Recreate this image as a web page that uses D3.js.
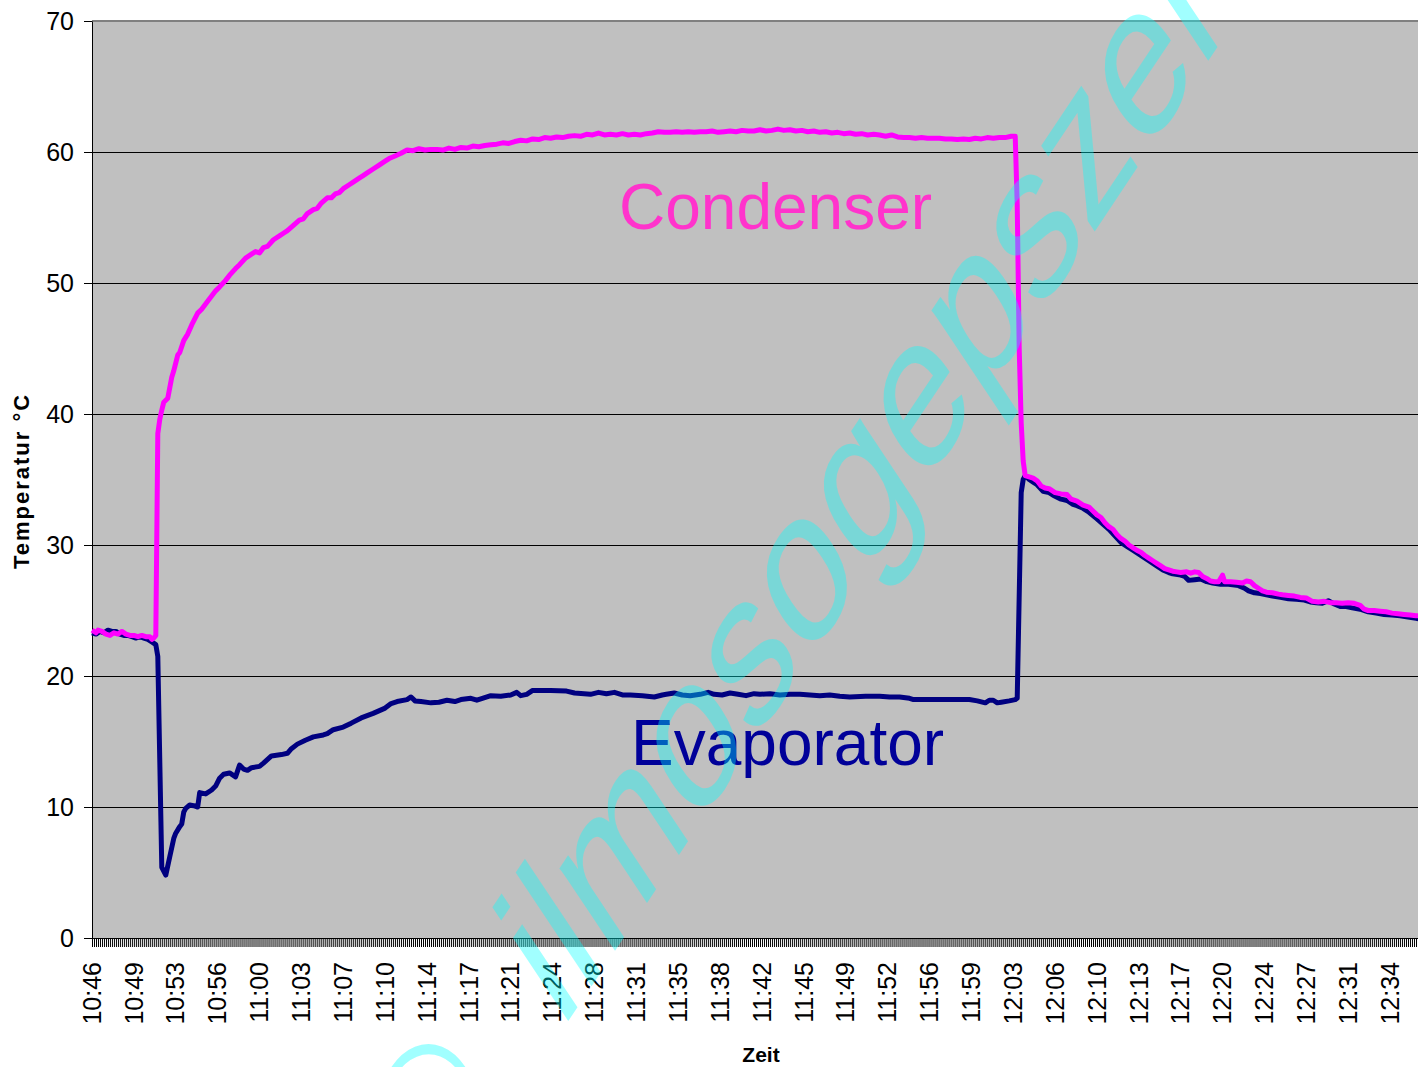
<!DOCTYPE html>
<html>
<head>
<meta charset="utf-8">
<script src="https://cdn.jsdelivr.net/npm/d3@7"></script>
<style>
  body { margin: 0; background: #fff; }
  svg { display: block; font-family: "Liberation Sans", Arial, sans-serif; }
</style>
</head>
<body>
<div id="plot"></div>
<script>
// x values are sample numbers (one reading every 10 s, starting 10:46)
const timeLabels = ["10:46","10:49","10:53","10:56","11:00","11:03","11:07","11:10","11:14","11:17",
  "11:21","11:24","11:28","11:31","11:35","11:38","11:42","11:45","11:49","11:52","11:56","11:59",
  "12:03","12:06","12:10","12:13","12:17","12:20","12:24","12:27","12:31","12:34"];
const labelEvery = 21;      // a time label every 21 samples
const sampleCount = 667;
const yTicks = [0, 10, 20, 30, 40, 50, 60, 70];

const condenser = [
  [0,23.5],[2,23.3],[3,23.5],[5,23.4],[7,23.2],[9,23.1],[11,23.3],[13,23.2],[15,23.4],[17,23.2],
  [19,23.1],[21,23.1],[23,23.0],[25,23.1],[27,23.0],[29,23.0],[30,22.8],[31,22.9],[32,23.1],
  [33,38.5],[34,39.6],[35,40.3],[36,40.9],[38,41.2],[40,42.8],[41,43.3],[43,44.5],[44,44.7],[46,45.6],
  [48,46.1],[50,46.8],[53,47.7],[55,48.0],[58,48.6],[60,49.0],[62,49.4],[64,49.7],[67,50.2],[69,50.6],
  [72,51.1],[74,51.4],[77,51.9],[80,52.2],[82,52.4],[84,52.3],[86,52.7],[88,52.8],[91,53.3],[94,53.6],
  [96,53.8],[98,54.0],[101,54.4],[104,54.8],[106,54.9],[108,55.3],[111,55.6],[113,55.7],[115,56.1],
  [118,56.5],[120,56.5],[122,56.8],[124,56.9],[126,57.2],[129,57.5],[131,57.7],[134,58.0],[136,58.2],
  [138,58.4],[141,58.7],[144,59.0],[147,59.3],[149,59.5],[152,59.7],[155,59.9],[158,60.15],[161,60.1],
  [164,60.25],[167,60.15],[170,60.2],[173,60.2],[176,60.15],[179,60.3],[182,60.2],[185,60.35],[188,60.3],
  [191,60.45],[194,60.4],[197,60.5],[200,60.55],[203,60.6],[206,60.7],[209,60.65],[212,60.8],[215,60.9],
  [218,60.85],[221,61.0],[224,60.95],[227,61.1],[230,61.05],[233,61.15],[236,61.1],[239,61.2],[242,61.25],
  [245,61.2],[248,61.35],[251,61.3],[254,61.45],[257,61.3],[260,61.35],[263,61.3],[266,61.4],[269,61.3],
  [272,61.35],[275,61.3],[278,61.4],[281,61.45],[284,61.55],[287,61.5],[290,61.5],[293,61.55],[296,61.5],
  [299,61.55],[302,61.5],[305,61.55],[308,61.55],[311,61.6],[314,61.5],[317,61.55],[320,61.6],[323,61.55],
  [326,61.65],[329,61.6],[332,61.6],[335,61.7],[338,61.6],[341,61.65],[344,61.75],[347,61.65],[350,61.7],
  [353,61.6],[356,61.65],[359,61.55],[362,61.6],[365,61.5],[368,61.55],[371,61.45],[374,61.5],[377,61.4],
  [380,61.45],[383,61.35],[386,61.4],[389,61.3],[392,61.35],[395,61.3],[398,61.2],[401,61.3],[404,61.15],
  [407,61.1],[410,61.1],[413,61.05],[416,61.1],[419,61.05],[422,61.05],[425,61.05],[428,61.0],[431,61.0],
  [434,60.95],[437,61.0],[440,60.95],[443,61.05],[446,61.0],[449,61.1],[452,61.05],[455,61.1],[458,61.1],
  [461,61.2],[463,61.2],
  [464,56.0],[465,45.0],[466,39.3],[467,36.4],[468,35.3],
  [470,35.2],[472,35.1],[474,34.9],[476,34.5],[478,34.35],[480,34.3],[483,34.0],[486,33.9],[489,33.85],
  [491,33.5],[494,33.35],[497,33.05],[500,32.9],[502,32.6],[504,32.3],[506,32.1],[508,31.7],[510,31.4],
  [512,31.2],[514,30.8],[516,30.5],[518,30.3],[520,30.0],[522,29.8],[524,29.6],[526,29.45],[528,29.2],
  [530,29.0],[532,28.8],[534,28.6],[536,28.4],[538,28.2],[540,28.1],[542,28.0],[544,27.95],[546,27.9],
  [549,27.95],[551,27.85],[553,27.95],[555,27.9],[557,27.6],[559,27.45],[561,27.25],[563,27.2],[565,27.2],
  [567,27.7],[568,27.2],[571,27.2],[574,27.15],[577,27.1],[579,27.25],[581,27.2],[583,26.9],[585,26.7],
  [587,26.5],[589,26.4],[592,26.35],[595,26.25],[597,26.2],[600,26.15],[603,26.1],[606,26.0],[609,25.95],
  [612,25.7],[615,25.65],[618,25.7],[621,25.6],[624,25.6],[627,25.55],[630,25.6],[633,25.55],[636,25.4],
  [638,25.1],[640,25.0],[643,25.0],[646,24.95],[649,24.9],[652,24.8],[655,24.75],[658,24.7],[661,24.65],
  [664,24.6],[666,24.6]
];

const evaporator = [
  [0,23.3],[2,23.2],[4,23.4],[6,23.3],[8,23.5],[10,23.4],[12,23.4],[14,23.2],[16,23.1],[18,23.1],
  [20,23.0],[22,22.9],[24,23.0],[26,22.9],[28,22.8],[30,22.6],[32,22.4],
  [33,21.5],[35,5.4],[37,4.8],[39,6.2],[41,7.6],[42,8.0],[44,8.5],[45,8.7],[46,9.6],[47,9.9],[49,10.15],
  [51,10.1],[53,10.0],[54,11.1],[57,11.0],[60,11.3],[62,11.6],[64,12.2],[66,12.5],[69,12.6],[72,12.3],
  [74,13.2],[76,12.9],[78,12.8],[80,13.0],[84,13.1],[86,13.35],[90,13.9],[95,14.0],[98,14.1],[100,14.45],
  [103,14.8],[107,15.1],[111,15.35],[116,15.5],[118,15.6],[121,15.9],[126,16.1],[130,16.4],[135,16.8],
  [141,17.15],[147,17.55],[150,17.9],[153,18.05],[158,18.2],[160,18.4],[162,18.1],[165,18.05],[170,17.95],
  [174,18.0],[178,18.15],[182,18.05],[185,18.2],[190,18.3],[193,18.15],[195,18.25],[200,18.5],[205,18.45],
  [210,18.55],[213,18.75],[215,18.5],[218,18.6],[221,18.9],[230,18.9],[238,18.85],[242,18.7],[250,18.6],
  [254,18.75],[258,18.65],[262,18.75],[266,18.55],[270,18.55],[276,18.5],[282,18.4],[286,18.55],[288,18.6],
  [292,18.7],[296,18.55],[300,18.5],[305,18.6],[309,18.75],[312,18.6],[316,18.55],[320,18.7],[324,18.6],
  [328,18.5],[332,18.65],[335,18.6],[340,18.65],[345,18.55],[350,18.6],[355,18.6],[360,18.55],[365,18.5],
  [370,18.55],[375,18.45],[380,18.4],[388,18.45],[395,18.45],[400,18.4],[405,18.4],[410,18.3],[412,18.2],
  [420,18.2],[430,18.2],[440,18.2],[444,18.1],[448,17.95],[450,18.15],[452,18.15],[454,17.95],[456,18.0],
  [460,18.1],[463,18.2],
  [464,18.3],[466,34.0],[467,35.0],[468,35.3],
  [470,35.0],[472,34.8],[474,34.6],[477,34.1],[480,34.0],[482,33.8],[486,33.5],[489,33.4],[492,33.1],
  [494,33.0],[497,32.8],[500,32.5],[504,32.0],[507,31.6],[510,31.2],[513,30.7],[516,30.2],[519,29.9],
  [522,29.6],[526,29.2],[530,28.8],[533,28.5],[537,28.1],[540,27.9],[542,27.8],[546,27.7],[548,27.6],
  [550,27.3],[553,27.35],[556,27.4],[559,27.2],[562,27.1],[566,27.0],[570,27.0],[575,26.9],[578,26.7],
  [580,26.5],[583,26.35],[586,26.3],[589,26.2],[592,26.1],[596,26.0],[600,25.9],[604,25.85],[608,25.8],
  [611,25.65],[614,25.6],[617,25.55],[620,25.75],[623,25.5],[626,25.3],[629,25.3],[632,25.2],[636,25.1],
  [640,24.9],[644,24.8],[648,24.7],[652,24.65],[656,24.6],[660,24.5],[664,24.4],[666,24.35]
];

const W = 1418, H = 1067;
const plotLeft = 92, plotTop = 21, plotBottom = 938;

const svg = d3.select("#plot").append("svg")
  .attr("width", W)
  .attr("height", H);

const x = d3.scaleLinear().domain([0, sampleCount - 1]).range([plotLeft, plotLeft + (sampleCount - 1) * 1.994]);
const y = d3.scaleLinear().domain([0, 70]).range([plotBottom, plotTop]);

// plot area
svg.append("rect")
  .attr("x", plotLeft).attr("y", plotTop)
  .attr("width", W - plotLeft + 10).attr("height", plotBottom - plotTop)
  .attr("fill", "#c0c0c0");

svg.append("line")
  .attr("x1", plotLeft).attr("x2", W + 10)
  .attr("y1", plotTop).attr("y2", plotTop)
  .attr("stroke", "#808080").attr("stroke-width", 2);

// horizontal gridlines
svg.append("g")
  .selectAll("line")
  .data(yTicks.filter(d => d > 0 && d < 70))
  .join("line")
  .attr("x1", plotLeft).attr("x2", W + 10)
  .attr("y1", d => Math.round(y(d)) + 0.5).attr("y2", d => Math.round(y(d)) + 0.5)
  .attr("stroke", "#000").attr("stroke-width", 1);

// y axis
const yAxis = svg.append("g")
  .attr("transform", `translate(${plotLeft},0)`)
  .call(d3.axisLeft(y).tickValues(yTicks).tickSize(8).tickSizeOuter(0).tickPadding(10));
yAxis.select(".domain").attr("stroke", "#000");
yAxis.selectAll("text").style("font-size", "25px").attr("fill", "#000")
  .style("font-family", "'Liberation Sans', Arial, sans-serif");

// x axis: one tick per sample
const xAxis = svg.append("g")
  .attr("transform", `translate(0,${plotBottom})`)
  .call(d3.axisBottom(x).tickValues(d3.range(0, sampleCount)).tickSize(9).tickSizeOuter(0).tickFormat(""));
xAxis.select(".domain").attr("stroke", "#000");
xAxis.selectAll(".tick line").attr("stroke", "#000");

// time labels
svg.append("g")
  .selectAll("text")
  .data(timeLabels)
  .join("text")
  .attr("transform", (d, i) => `translate(${x(i * labelEvery)},962) rotate(-90)`)
  .attr("text-anchor", "end")
  .attr("dy", "0.35em")
  .style("font-size", "25px")
  .text(d => d);

// axis titles
svg.append("text")
  .attr("transform", "translate(29,481) rotate(-90)")
  .attr("text-anchor", "middle")
  .style("font-size", "22px")
  .style("font-weight", "bold")
  .style("letter-spacing", "2px")
  .text("Temperatur °C");

svg.append("text")
  .attr("x", 761).attr("y", 1062)
  .attr("text-anchor", "middle")
  .style("font-size", "21px")
  .style("font-weight", "bold")
  .text("Zeit");

// series
const line = d3.line()
  .x(d => x(d[0]))
  .y(d => y(d[1]));

svg.append("path")
  .datum(evaporator)
  .attr("d", line)
  .attr("fill", "none")
  .attr("stroke", "#000080")
  .attr("stroke-width", 5)
  .attr("stroke-linejoin", "round");

svg.append("path")
  .datum(condenser)
  .attr("d", line)
  .attr("fill", "none")
  .attr("stroke", "#ff00ff")
  .attr("stroke-width", 5)
  .attr("stroke-linejoin", "round");

// series names inside the plot
svg.append("text")
  .attr("x", 619).attr("y", 229)
  .style("font-size", "64px")
  .attr("fill", "#ff33cc")
  .text("Condenser");

svg.append("text")
  .attr("x", 631).attr("y", 765)
  .style("font-size", "64px")
  .attr("fill", "#000099")
  .text("Evaporator");

// watermark
svg.append("g")
  .attr("transform", "scale(1,1.5)")
  .append("text")
  .attr("transform", "translate(426,823) rotate(-45)")
  .style("font-size", "148px")
  .attr("fill", "#00ffff")
  .attr("fill-opacity", 0.37)
  .text("©\u00a0\u00a0ilmosogepszerelo");
</script>
</body>
</html>
